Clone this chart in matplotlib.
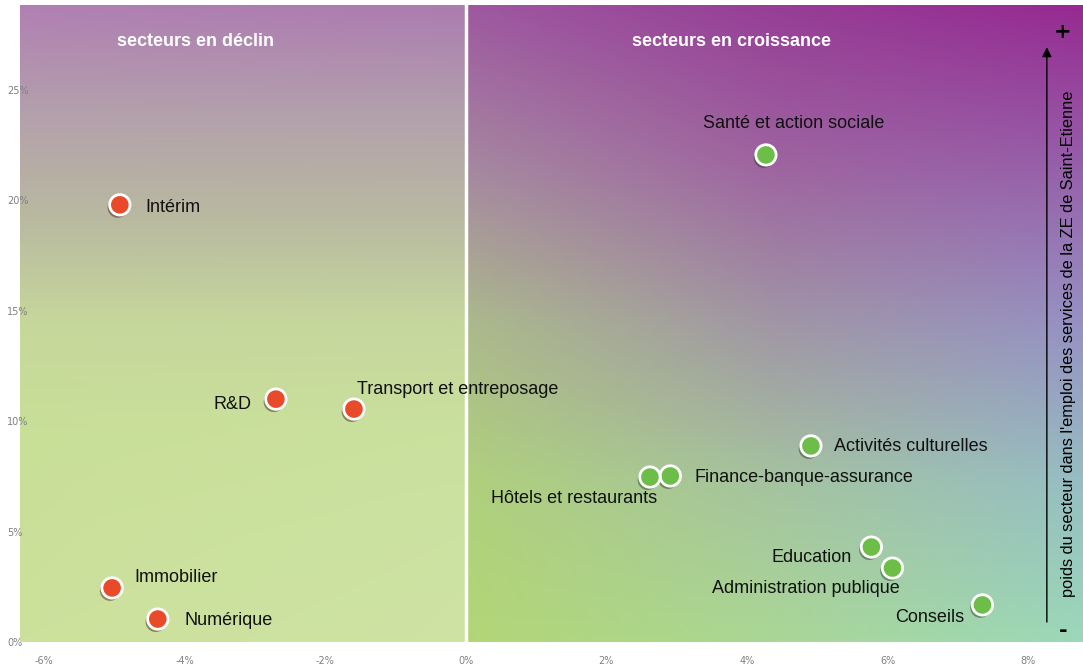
import numpy as np
import matplotlib.pyplot as plt
from matplotlib import patheffects as pe

# data (x = evolution de l'emploi, y = poids du secteur), in %
declin_noms = ["Intérim", "R&D", "Transport et entreposage", "Immobilier", "Numérique"]
declin_x = [-4.92, -2.70, -1.59, -5.03, -4.38]
declin_y = [19.8, 11.0, 10.55, 2.45, 1.04]

croiss_noms = ["Santé et action sociale", "Activités culturelles", "Finance-banque-assurance",
               "Hôtels et restaurants", "Education", "Administration publique", "Conseils"]
croiss_x = [4.27, 4.91, 2.91, 2.62, 5.77, 6.07, 7.35]
croiss_y = [22.06, 8.88, 7.52, 7.47, 4.30, 3.35, 1.68]

xticks = [-6, -4, -2, 0, 2, 4, 6, 8]
yticks = [0, 5, 10, 15, 20, 25]

# label placement (pixels from the dot) and alignment
off_declin = [((26, -3), "left"), ((-24, -5), "right"), ((3, 20), "left"),
              ((22, 10), "left"), ((27, -1), "left")]
off_croiss = [((28, 31), "center"), ((23, -1), "left"), ((24, -2), "left"),
              ((7, -21), "right"), ((-20, -10), "right"), ((7, -20), "right"),
              ((-18, -13), "right")]

XMIN, XMAX, YMIN, YMAX = -6.34, 8.78, 0, 28.85

fig = plt.figure(figsize=(10.83, 6.68), dpi=100)
ax = fig.add_axes([20 / 1083, 26 / 668, 1 - 20 / 1083, 637 / 668])


def grid_img(rows, n=200):
    # bilinear blow-up of a small colour grid
    g = np.array(rows, dtype=float) / 255
    r, c = g.shape[:2]
    yi = np.linspace(0, r - 1, n)
    xi = np.linspace(0, c - 1, n)
    out = np.zeros((n, n, 3))
    for ch in range(3):
        tmp = np.array([np.interp(xi, np.arange(c), g[k, :, ch]) for k in range(r)])
        out[:, :, ch] = np.array([np.interp(yi, np.arange(r), tmp[:, j]) for j in range(n)]).T
    return out


left_bg = grid_img([
    [(176, 128, 178), (172, 124, 176)],
    [(180, 160, 172), (178, 160, 172)],
    [(185, 185, 160), (185, 185, 162)],
    [(198, 215, 155), (198, 215, 158)],
    [(200, 223, 152), (202, 224, 158)],
    [(202, 224, 154), (204, 226, 162)],
    [(204, 225, 156), (206, 227, 164)],
])
right_bg = grid_img([
    [(158, 88, 160), (150, 62, 150), (150, 42, 145)],
    [(165, 135, 160), (158, 100, 160), (150, 95, 170)],
    [(172, 185, 140), (160, 150, 165), (150, 145, 195)],
    [(176, 208, 125), (165, 195, 160), (150, 190, 195)],
    [(178, 214, 118), (170, 215, 150), (155, 216, 185)],
])
ax.imshow(left_bg, extent=[XMIN, 0, YMIN, YMAX], origin="upper", aspect="auto",
          interpolation="bilinear", zorder=0)
ax.imshow(right_bg, extent=[0, XMAX, YMIN, YMAX], origin="upper", aspect="auto",
          interpolation="bilinear", zorder=0)
ax.axvline(0, color="white", lw=2.5, zorder=1)

shadow = [pe.SimplePatchShadow(offset=(-1.5, -2), alpha=0.45), pe.Normal()]
sc1 = ax.scatter(declin_x, declin_y, s=215, color="#e84a2a", edgecolor="white",
                 linewidth=2, zorder=3)
sc2 = ax.scatter(croiss_x, croiss_y, s=215, color="#6cbe48", edgecolor="white",
                 linewidth=2, zorder=3)
sc1.set_path_effects(shadow)
sc2.set_path_effects(shadow)

for nom, x, y, (off, ha) in zip(declin_noms + croiss_noms, declin_x + croiss_x,
                                declin_y + croiss_y, off_declin + off_croiss):
    ax.annotate(nom, (x, y), xytext=off, textcoords="offset pixels", ha=ha,
                va="center", fontsize=13, color="#111111", zorder=4,
                family="Liberation Sans")

hfont = dict(family="Liberation Sans", fontweight="bold",
             fontsize=13, color="white", ha="center", va="center")
ax.text(-3.85, 27.2, "secteurs en déclin", **hfont)
ax.text(3.78, 27.2, "secteurs en croissance", **hfont)

# right side axis arrow
ax.annotate("", xy=(0.966, 0.938), xytext=(0.966, 0.027), xycoords="axes fraction",
            arrowprops=dict(arrowstyle="-|>", color="black", lw=1, mutation_scale=14))
ax.text(0.986, 0.468, "poids du secteur dans l'emploi des services de la ZE de Saint-Etienne",
        transform=ax.transAxes, rotation=90, ha="center", va="center", fontsize=11.8,
        family="Liberation Sans", color="black")
ax.text(0.981, 0.958, "+", transform=ax.transAxes, ha="center", va="center",
        fontsize=15, fontweight="bold")
ax.text(0.981, 0.017, "-", transform=ax.transAxes, ha="center", va="center",
        fontsize=15, fontweight="bold")

ax.set_xlim(XMIN, XMAX)
ax.set_ylim(YMIN, YMAX)
ax.set_xticks(xticks)
ax.set_xticklabels([f"{t}%" for t in xticks])
ax.set_yticks(yticks)
ax.set_yticklabels([f"{t}%" for t in yticks])
ax.tick_params(length=0, labelsize=7, labelcolor="#808080")
ax.tick_params(axis="x", pad=10)
ax.tick_params(axis="y", pad=9.4)
for lab in ax.get_yticklabels():
    lab.set_ha("left")
for s in ax.spines.values():
    s.set_visible(False)

fig.savefig("out.png", dpi=100)
